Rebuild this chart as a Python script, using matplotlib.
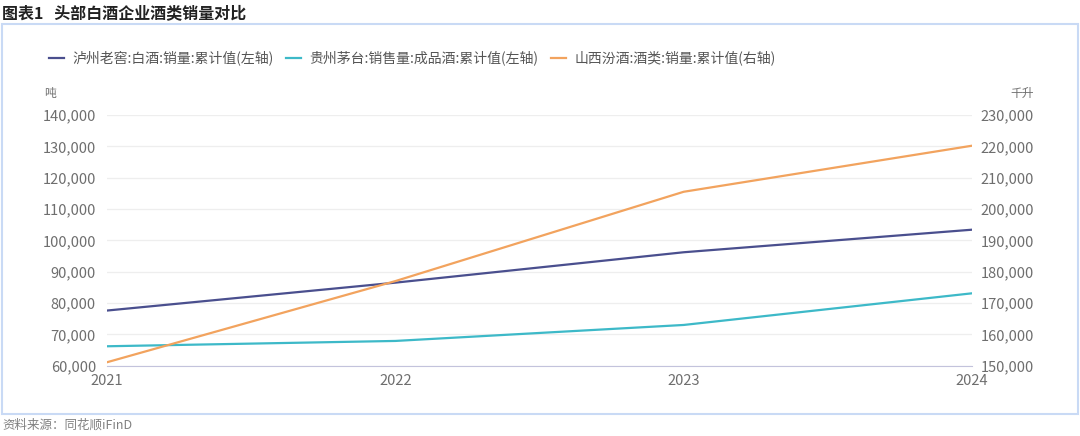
import matplotlib
matplotlib.use("Agg")
import matplotlib.pyplot as plt
from matplotlib.patches import Rectangle
from matplotlib.ticker import FuncFormatter

plt.rcParams['font.family'] = ['Noto Sans CJK SC', 'DejaVu Sans']

# 数据
years = [2021, 2022, 2023, 2024]
luzhou = [77600, 86500, 96200, 103400]      # 泸州老窖 白酒销量 吨（左轴）
maotai = [66200, 67900, 73000, 83100]       # 贵州茅台 成品酒销售量 吨（左轴）
fenjiu = [151100, 177000, 205500, 220200]   # 山西汾酒 酒类销量 千升（右轴）

labels = ['泸州老窖:白酒:销量:累计值(左轴)',
          '贵州茅台:销售量:成品酒:累计值(左轴)',
          '山西汾酒:酒类:销量:累计值(右轴)']
colors = ['#4a4f8e', '#3db9c8', '#f2a35e']

W, H = 1080, 436
fig = plt.figure(figsize=(W / 100, H / 100), dpi=100)

# 外框
fig.patches.append(Rectangle((2 / W, 1 - 414 / H), 1076 / W, 390 / H,
                             transform=fig.transFigure, fill=False,
                             edgecolor='#c9daf5', linewidth=1.5))

ax = fig.add_axes([107 / W, 1 - 365.7 / H, 865 / W, 250.7 / H])
ax2 = ax.twinx()

l1, = ax.plot(years, luzhou, color=colors[0], lw=1.6, label=labels[0])
l2, = ax.plot(years, maotai, color=colors[1], lw=1.6, label=labels[1])
l3, = ax2.plot(years, fenjiu, color=colors[2], lw=1.6, label=labels[2])

ax.set_xlim(2021, 2024)
ax.set_ylim(60000, 140000)
ax2.set_ylim(150000, 230000)
ax.set_yticks(range(60000, 140001, 10000))
ax2.set_yticks(range(150000, 230001, 10000))
ax.set_xticks(years)
ax.set_xticklabels([str(y) for y in years])

fmt = FuncFormatter(lambda v, p: f'{int(v):,}')
ax.yaxis.set_major_formatter(fmt)
ax2.yaxis.set_major_formatter(fmt)

ax.grid(axis='y', color='#eeeeee', lw=0.9)
ax.set_axisbelow(True)
for a in (ax, ax2):
    for s in a.spines.values():
        s.set_visible(False)
    a.tick_params(length=0, labelsize=10.5, colors='#6e6e6e')
ax.spines['bottom'].set_visible(True)
ax.spines['bottom'].set_color('#c3c3dc')
ax.tick_params(axis='y', pad=8)
ax2.tick_params(axis='y', pad=6)
ax.tick_params(axis='x', pad=6)

fig.text(2 / W, 1 - 13 / H, '图表1   头部白酒企业酒类销量对比', fontsize=11.5,
         fontweight='bold', color='#222222', va='center', ha='left')
fig.text(44 / W, 1 - 93 / H, '吨', fontsize=8.5, color='#6e6e6e', va='center')
fig.text(1034 / W, 1 - 93 / H, '千升', fontsize=8.5, color='#6e6e6e',
         va='center', ha='right')
fig.text(2 / W, 1 - 425 / H, '资料来源：同花顺iFinD', fontsize=9,
         color='#808080', va='center', ha='left')

fig.legend(handles=[l1, l2, l3], loc='center left',
           bbox_to_anchor=(36 / W, 1 - 58 / H), ncol=3, frameon=False,
           fontsize=10, handlelength=1.1, handletextpad=0.6,
           columnspacing=0.9, labelcolor='#555555')

fig.savefig('out.png', dpi=100)
